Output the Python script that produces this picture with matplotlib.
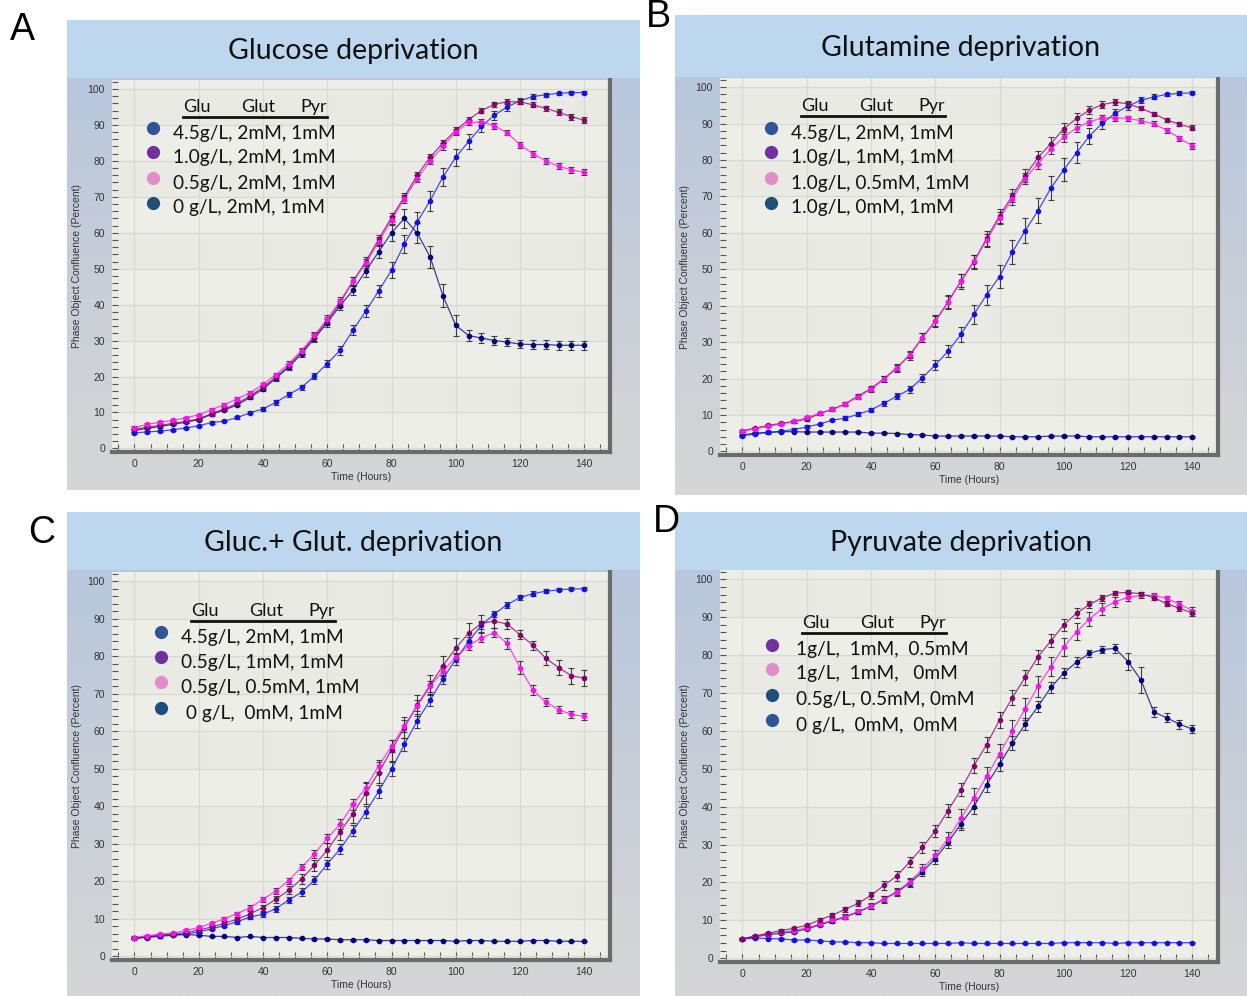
import numpy as np
import matplotlib
matplotlib.use("Agg")
import matplotlib.pyplot as plt
from matplotlib.lines import Line2D
from matplotlib.ticker import MultipleLocator
from matplotlib.colors import LinearSegmentedColormap

W, H = 1247, 996

hours = list(range(0, 141, 4))

# ---- Panel A: glucose deprivation ----
a_labels = ["4.5g/L, 2mM, 1mM", "1.0g/L, 2mM, 1mM", "0.5g/L, 2mM, 1mM", "0 g/L, 2mM, 1mM"]
a_blue = [4.3, 4.6, 4.8, 5.2, 5.7, 6.3, 7.2, 7.6, 8.6, 9.9, 11.0, 12.8, 15.0, 17.0, 20.1, 23.6, 27.3, 32.9,
          38.2, 43.8, 49.6, 56.9, 63.0, 68.9, 75.5, 81.0, 85.4, 89.6, 92.7, 95.0, 96.7, 97.9, 98.4, 98.8, 99.0, 99.0]
a_blue_err = [0.3, 0.3, 0.3, 0.3, 0.3, 0.3, 0.3, 0.3, 0.4, 0.4, 0.5, 0.6, 0.6, 0.7, 0.9, 1.0, 1.2, 1.4,
              1.6, 1.8, 2.2, 2.6, 2.8, 2.8, 2.6, 2.4, 2.0, 1.6, 1.3, 1.0, 0.8, 0.6, 0.5, 0.5, 0.4, 0.4]
a_purple = [5.3, 5.9, 6.4, 7.0, 7.5, 8.2, 9.7, 11.0, 12.5, 14.6, 17.0, 19.8, 23.0, 26.8, 31.0, 35.5, 40.5, 46.5,
            52.0, 58.2, 64.3, 70.0, 76.0, 81.0, 85.0, 88.5, 91.5, 94.0, 95.7, 96.5, 96.4, 95.6, 94.6, 93.5, 92.3, 91.3]
a_purple_err = [0.3, 0.3, 0.3, 0.3, 0.3, 0.3, 0.4, 0.4, 0.4, 0.5, 0.6, 0.7, 0.8, 0.9, 1.0, 1.1, 1.2, 1.3,
                1.3, 1.2, 1.2, 1.1, 1.0, 1.0, 0.9, 0.9, 0.8, 0.8, 0.7, 0.7, 0.7, 0.7, 0.7, 0.8, 0.8, 0.8]
a_magenta = [5.8, 6.7, 7.3, 7.8, 8.5, 9.4, 10.8, 12.2, 13.8, 15.5, 17.8, 20.5, 23.6, 27.2, 31.5, 36.0, 41.0, 46.5,
             51.5, 57.5, 63.5, 69.5, 75.0, 80.0, 84.0, 88.0, 90.7, 90.8, 89.8, 87.8, 84.5, 82.0, 80.0, 78.5, 77.5, 76.8]
a_magenta_err = [0.3, 0.3, 0.3, 0.3, 0.3, 0.3, 0.4, 0.4, 0.4, 0.5, 0.5, 0.6, 0.7, 0.8, 0.9, 1.0, 1.1, 1.2,
                 1.2, 1.2, 1.1, 1.1, 1.0, 1.0, 0.9, 0.9, 0.8, 0.8, 0.8, 0.7, 0.8, 0.8, 0.8, 0.8, 0.8, 0.8]
a_navy = [5.0, 5.6, 6.1, 6.7, 7.3, 8.0, 9.5, 10.7, 12.1, 14.2, 16.5, 19.5, 22.6, 26.3, 30.6, 35.0, 39.7, 44.0,
          49.4, 54.7, 60.0, 64.0, 59.9, 53.3, 42.5, 34.2, 31.4, 30.7, 30.0, 29.6, 29.0, 28.9, 28.9, 28.7, 28.7, 28.7]
a_navy_err = [0.3, 0.3, 0.3, 0.3, 0.3, 0.3, 0.4, 0.4, 0.4, 0.5, 0.6, 0.7, 0.8, 0.9, 1.0, 1.1, 1.3, 1.4,
              1.6, 1.8, 2.2, 2.6, 2.8, 3.0, 3.2, 2.8, 1.5, 1.3, 1.3, 1.2, 1.2, 1.2, 1.2, 1.2, 1.2, 1.2]

# ---- Panel B: glutamine deprivation ----
b_labels = ["4.5g/L, 2mM, 1mM", "1.0g/L, 1mM, 1mM", "1.0g/L, 0.5mM, 1mM", "1.0g/L, 0mM, 1mM"]
b_blue = [4.3, 4.8, 5.2, 5.5, 6.0, 6.7, 7.5, 8.6, 9.1, 10.2, 11.4, 13.2, 15.1, 17.0, 20.2, 23.7, 27.5, 32.1,
          37.6, 43.0, 48.0, 54.7, 60.6, 66.1, 72.3, 77.3, 82.0, 86.6, 90.1, 92.8, 94.8, 96.4, 97.3, 98.0, 98.3, 98.4]
b_blue_err = [0.3, 0.3, 0.3, 0.3, 0.3, 0.4, 0.4, 0.4, 0.5, 0.5, 0.6, 0.7, 0.8, 0.9, 1.1, 1.3, 1.6, 2.0,
              2.5, 2.8, 3.2, 3.2, 3.5, 3.4, 3.4, 3.2, 2.8, 2.2, 1.6, 1.3, 1.0, 0.8, 0.7, 0.5, 0.5, 0.4]
b_purple = [5.7, 6.4, 7.1, 7.7, 8.2, 8.8, 10.4, 11.5, 13.1, 15.2, 17.3, 19.9, 23.0, 26.3, 31.2, 35.7, 41.0, 46.7,
            52.0, 58.5, 64.7, 70.2, 75.7, 80.7, 84.5, 88.6, 91.4, 93.7, 95.2, 95.9, 95.4, 94.2, 92.7, 91.0, 89.8, 88.8]
b_purple_err = [0.3, 0.3, 0.3, 0.3, 0.4, 0.4, 0.4, 0.5, 0.5, 0.6, 0.7, 0.8, 1.0, 1.1, 1.3, 1.6, 1.8, 2.0,
                2.0, 2.0, 1.9, 1.8, 1.8, 1.8, 1.8, 1.6, 1.5, 1.2, 1.0, 0.8, 0.7, 0.6, 0.6, 0.6, 0.6, 0.7]
b_magenta = [5.5, 6.2, 6.9, 7.5, 8.2, 9.3, 10.4, 11.6, 13.0, 15.0, 17.0, 19.8, 22.8, 26.5, 31.2, 35.8, 41.0, 46.8,
             52.2, 58.0, 64.0, 69.3, 74.9, 79.0, 83.0, 86.3, 88.8, 90.5, 91.5, 91.6, 91.4, 90.8, 89.9, 88.2, 86.0, 83.9]
b_magenta_err = [0.3, 0.3, 0.3, 0.3, 0.4, 0.4, 0.4, 0.5, 0.5, 0.6, 0.7, 0.8, 0.9, 1.0, 1.2, 1.4, 1.6, 1.8,
                 1.8, 1.8, 1.7, 1.6, 1.6, 1.5, 1.4, 1.3, 1.1, 1.0, 0.9, 0.8, 0.7, 0.7, 0.7, 0.7, 0.7, 0.8]
b_navy = [4.5, 5.0, 5.2, 5.4, 5.4, 5.3, 5.3, 5.3, 5.3, 5.3, 5.0, 5.0, 4.9, 4.6, 4.5, 4.2, 4.2, 4.2,
          4.2, 4.2, 4.2, 4.0, 4.0, 4.0, 4.2, 4.2, 4.2, 4.0, 4.0, 4.0, 4.0, 4.0, 4.0, 4.0, 4.0, 4.0]
b_navy_err = [0.2, 0.2, 0.2, 0.2, 0.2, 0.2, 0.2, 0.2, 0.2, 0.2, 0.2, 0.2, 0.2, 0.2, 0.2, 0.2, 0.2, 0.2,
              0.2, 0.2, 0.2, 0.2, 0.2, 0.2, 0.2, 0.2, 0.2, 0.2, 0.2, 0.2, 0.2, 0.2, 0.2, 0.2, 0.2, 0.2]

# ---- Panel C: glucose + glutamine deprivation ----
c_labels = ["4.5g/L, 2mM, 1mM", "0.5g/L, 1mM, 1mM", "0.5g/L, 0.5mM, 1mM", " 0 g/L,  0mM, 1mM"]
c_blue = [4.8, 5.0, 5.3, 5.6, 5.9, 6.5, 7.3, 8.2, 9.2, 10.5, 11.2, 12.7, 15.0, 17.1, 20.3, 24.6, 28.6, 33.5,
          38.5, 44.0, 49.9, 56.5, 62.8, 68.3, 74.0, 79.2, 84.0, 88.3, 91.3, 93.8, 95.7, 96.7, 97.4, 97.7, 98.0, 98.0]
c_blue_err = [0.3, 0.3, 0.3, 0.3, 0.3, 0.3, 0.4, 0.5, 0.5, 0.6, 0.7, 0.8, 0.9, 1.0, 1.1, 1.2, 1.4, 1.5,
              1.6, 1.7, 1.8, 1.8, 1.8, 1.6, 1.5, 1.4, 1.2, 1.0, 0.9, 0.8, 0.7, 0.6, 0.5, 0.4, 0.4, 0.4]
c_purple = [4.8, 5.2, 5.6, 5.9, 6.3, 7.0, 7.8, 8.8, 9.9, 11.3, 13.0, 15.2, 17.6, 20.6, 24.3, 28.3, 33.2, 38.0,
            43.5, 49.0, 55.0, 61.0, 67.0, 72.3, 77.5, 82.2, 86.2, 88.8, 89.4, 88.6, 85.8, 83.0, 79.5, 77.0, 74.8, 74.2]
c_purple_err = [0.3, 0.3, 0.3, 0.3, 0.3, 0.4, 0.4, 0.5, 0.6, 0.7, 0.8, 0.9, 1.1, 1.3, 1.5, 1.8, 2.2, 2.5,
                2.8, 2.8, 2.8, 2.8, 2.8, 2.6, 2.6, 2.6, 2.6, 2.2, 1.8, 1.4, 1.2, 1.2, 1.8, 2.0, 2.2, 2.2]
c_magenta = [5.0, 5.5, 5.9, 6.2, 6.9, 7.7, 8.8, 10.0, 11.4, 13.0, 15.2, 17.4, 20.2, 23.8, 27.3, 31.5, 35.2, 40.5,
             45.0, 50.8, 56.0, 61.5, 66.8, 72.0, 76.0, 79.8, 82.8, 85.0, 86.3, 83.5, 77.0, 71.0, 67.8, 65.8, 64.5, 64.0]
c_magenta_err = [0.3, 0.3, 0.3, 0.3, 0.3, 0.4, 0.4, 0.5, 0.5, 0.6, 0.6, 0.7, 0.8, 0.9, 1.0, 1.2, 1.3, 1.5,
                 1.6, 1.6, 1.6, 1.6, 1.5, 1.4, 1.3, 1.2, 1.2, 1.2, 1.2, 1.5, 1.7, 1.3, 1.0, 0.9, 0.9, 0.9]
c_navy = [4.8, 5.2, 5.5, 5.7, 5.8, 5.6, 5.3, 5.3, 5.0, 5.3, 5.0, 5.0, 5.0, 4.8, 4.6, 4.6, 4.4, 4.4,
          4.4, 4.2, 4.2, 4.2, 4.2, 4.2, 4.2, 4.0, 4.2, 4.2, 4.0, 4.0, 4.0, 4.2, 4.2, 4.0, 4.0, 4.0]
c_navy_err = [0.2, 0.2, 0.2, 0.2, 0.2, 0.2, 0.2, 0.2, 0.2, 0.2, 0.2, 0.2, 0.2, 0.2, 0.2, 0.2, 0.2, 0.2,
              0.2, 0.2, 0.2, 0.2, 0.2, 0.2, 0.2, 0.2, 0.2, 0.2, 0.2, 0.2, 0.2, 0.2, 0.2, 0.2, 0.2, 0.2]

# ---- Panel D: pyruvate deprivation ----
d_labels = ["1g/L,  1mM,  0.5mM", "1g/L,  1mM,   0mM", "0.5g/L, 0.5mM, 0mM", "0 g/L,  0mM,  0mM"]
d_purple = [5.1, 5.9, 6.6, 7.3, 7.9, 8.7, 10.1, 11.4, 12.9, 14.5, 16.6, 19.2, 21.7, 25.4, 29.3, 33.6, 39.0, 44.5,
            50.8, 56.4, 62.9, 68.8, 74.2, 79.6, 83.8, 88.0, 91.1, 93.4, 95.2, 96.4, 96.6, 96.2, 95.2, 93.6, 92.4, 91.1]
d_purple_err = [0.3, 0.3, 0.3, 0.4, 0.4, 0.4, 0.5, 0.6, 0.7, 0.8, 1.0, 1.1, 1.2, 1.3, 1.4, 1.5, 1.7, 1.8,
                2.0, 2.0, 2.0, 2.0, 2.0, 1.8, 1.7, 1.5, 1.3, 1.0, 0.8, 0.6, 0.5, 0.5, 0.6, 0.7, 0.8, 0.8]
d_magenta = [5.1, 5.8, 6.3, 6.8, 7.3, 8.0, 9.0, 10.0, 11.0, 12.4, 13.7, 15.6, 17.6, 20.2, 23.5, 27.2, 31.6, 37.0,
             42.3, 48.0, 54.0, 60.0, 65.8, 71.8, 77.0, 82.2, 86.2, 89.6, 92.3, 94.1, 95.3, 95.8, 95.8, 95.0, 93.5, 91.8]
d_magenta_err = [0.3, 0.3, 0.3, 0.3, 0.4, 0.4, 0.4, 0.5, 0.6, 0.7, 0.8, 0.9, 1.0, 1.1, 1.3, 1.5, 1.8, 2.5,
                 2.6, 2.6, 2.6, 2.8, 2.8, 2.8, 2.6, 2.4, 2.2, 1.8, 1.6, 1.3, 1.0, 0.8, 0.7, 0.7, 0.8, 0.8]
d_navy = [5.1, 5.7, 6.2, 6.6, 7.0, 7.7, 8.8, 9.8, 10.9, 12.2, 13.7, 15.6, 17.4, 19.8, 22.8, 26.3, 30.6, 35.5,
          40.0, 45.8, 51.2, 56.8, 61.8, 66.5, 71.5, 75.3, 78.2, 80.5, 81.5, 81.8, 78.3, 73.5, 65.0, 63.5, 61.8, 60.5]
d_navy_err = [0.3, 0.3, 0.3, 0.3, 0.3, 0.3, 0.4, 0.5, 0.6, 0.6, 0.7, 0.8, 0.9, 1.0, 1.2, 1.3, 1.5, 1.6,
              1.8, 1.8, 1.8, 1.8, 1.6, 1.5, 1.4, 1.3, 1.2, 1.0, 1.0, 1.2, 2.2, 3.5, 1.2, 1.2, 1.2, 1.0]
d_blue = [5.1, 5.3, 5.2, 5.1, 4.8, 4.8, 4.6, 4.3, 4.3, 4.1, 4.1, 3.9, 3.9, 3.9, 3.9, 3.9, 3.9, 4.1,
          3.9, 3.9, 3.9, 3.9, 3.9, 3.9, 3.9, 4.1, 4.1, 4.1, 4.1, 3.9, 4.1, 4.1, 4.1, 4.1, 4.1, 4.1]
d_blue_err = [0.2, 0.2, 0.2, 0.2, 0.2, 0.2, 0.2, 0.2, 0.2, 0.2, 0.2, 0.2, 0.2, 0.2, 0.2, 0.2, 0.2, 0.2,
              0.2, 0.2, 0.2, 0.2, 0.2, 0.2, 0.2, 0.2, 0.2, 0.2, 0.2, 0.2, 0.2, 0.2, 0.2, 0.2, 0.2, 0.2]

# line colours (Incucyte style) and legend dot colours (slide style)
BLUE, PURPLE, MAGENTA, NAVY = "#1010F0", "#880070", "#FF10F0", "#000080"
DOT_BLUE, DOT_PURPLE, DOT_PINK, DOT_NAVY = "#2F5597", "#7030A0", "#E08DC8", "#1F4E79"

TITLE_FONT = ["Lato", "DejaVu Sans"]
TICK_FONT = ["Liberation Sans Narrow", "Liberation Sans", "DejaVu Sans"]

fig = plt.figure(figsize=(W / 100, H / 100), dpi=100)


def fx(x):
    return x / W


def fy(y):
    return 1 - y / H


def rect(x0, y0, x1, y1):
    return [fx(x0), fy(y1), fx(x1) - fx(x0), fy(y0) - fy(y1)]


def draw_panel(box, band_bottom, plot_box, title, series, dots, labels, leg):
    # outer gradient box
    bg = fig.add_axes(rect(*box), zorder=0)
    grad = np.linspace(0, 1, 256).reshape(-1, 1)
    cmap = LinearSegmentedColormap.from_list("bg", ["#B3C6DF", "#C6CDD8", "#D6D6D6"])
    bg.imshow(grad, aspect="auto", cmap=cmap, extent=[0, 1, 0, 1])
    bg.axis("off")

    # title band
    band = fig.add_axes(rect(box[0], box[1], box[2], band_bottom), zorder=2)
    band.set_facecolor("#BDD7EE")
    band.set_xticks([])
    band.set_yticks([])
    for s in band.spines.values():
        s.set_visible(False)
    band.text(0.5, 0.47, title, ha="center", va="center", fontsize=20.5, family=TITLE_FONT,
              color="#111111")

    ax = fig.add_axes(rect(*plot_box), zorder=1)
    ax.set_facecolor("#EEEEE9")
    for y0 in range(10, 101, 20):
        ax.axhspan(y0, y0 + 10, color="#EAEAE4", lw=0, zorder=0)
    ax.set_xlim(-7, 148)
    ax.set_ylim(-1, 102.5)
    ax.xaxis.set_major_locator(MultipleLocator(20))
    ax.xaxis.set_minor_locator(MultipleLocator(5))
    ax.yaxis.set_major_locator(MultipleLocator(10))
    ax.yaxis.set_minor_locator(MultipleLocator(2))
    ax.set_xticks(range(0, 141, 20))
    ax.grid(True, which="major", color="#D9D9D3", lw=0.9, zorder=0.5)
    ax.set_axisbelow(True)
    ax.tick_params(axis="x", which="both", direction="in", length=6, width=0.8, color="#555555",
                   labelsize=7.5, labelcolor="#333333", pad=5)
    ax.tick_params(axis="y", which="both", direction="in", length=4, width=0.8, color="#555555",
                   labelsize=7.5, labelcolor="#333333", pad=5)
    for lab in ax.get_xticklabels() + ax.get_yticklabels():
        lab.set_family(TICK_FONT)
    ax.spines["top"].set_visible(False)
    ax.spines["left"].set_visible(False)
    for side in ("bottom", "right"):
        ax.spines[side].set_color("#6B6B6B")
        ax.spines[side].set_linewidth(3)
    ax.set_xlabel("Time (Hours)", fontsize=7.5, family=TICK_FONT, color="#333333", labelpad=2)
    ax.set_ylabel("Phase Object Confluence (Percent)", fontsize=7.5, family=TICK_FONT,
                  color="#333333", labelpad=4)

    for vals, errs, col in series:
        ax.errorbar(hours, vals, yerr=errs, fmt="none", ecolor="#222222", elinewidth=0.8,
                    capsize=2.2, capthick=0.8, alpha=0.85, zorder=3)
        ax.plot(hours, vals, color=col, lw=0.9, alpha=0.75, zorder=4)
        ax.plot(hours, vals, ls="none", marker="o", ms=3.0, color=col, zorder=5)

    # hand-made legend, positions in pixels from plot top-left
    x0, y0 = plot_box[0], plot_box[1]
    mx, tx, hx, hy, rows = leg
    for word, dx in zip(["Glu", "Glut", "Pyr"], [0, 58, 117]):
        fig.text(fx(x0 + hx + dx), fy(y0 + hy), word, fontsize=13, family=TITLE_FONT,
                 va="center", ha="left", color="#111111", zorder=6)
    fig.add_artist(Line2D([fx(x0 + hx), fx(x0 + hx + 144)], [fy(y0 + hy + 10), fy(y0 + hy + 10)],
                          color="#111111", lw=2, zorder=6))
    for dy, lab, dc in zip(rows, labels, dots):
        fig.add_artist(Line2D([fx(x0 + mx)], [fy(y0 + dy - 5)], marker="o", ms=8.5, color=dc, ls="none",
                              zorder=6))
        fig.text(fx(x0 + tx), fy(y0 + dy), lab, fontsize=13.8, family=TITLE_FONT, va="center",
                 ha="left", color="#111111", zorder=6)
    return ax


draw_panel((67, 20, 640, 490), 78, (112, 80, 610, 452), "Glucose deprivation",
           [(a_navy, a_navy_err, NAVY), (a_blue, a_blue_err, BLUE),
            (a_purple, a_purple_err, PURPLE), (a_magenta, a_magenta_err, MAGENTA)],
           [DOT_BLUE, DOT_PURPLE, DOT_PINK, DOT_NAVY], a_labels,
           (41, 61, 71, 27, [53, 77, 103, 128]))

draw_panel((675, 15, 1247, 495), 77, (720, 78, 1218, 455), "Glutamine deprivation",
           [(b_navy, b_navy_err, NAVY), (b_blue, b_blue_err, BLUE),
            (b_purple, b_purple_err, PURPLE), (b_magenta, b_magenta_err, MAGENTA)],
           [DOT_BLUE, DOT_PURPLE, DOT_PINK, DOT_NAVY], b_labels,
           (51, 71, 81, 28, [55, 79, 105, 130]))

draw_panel((67, 512, 640, 996), 570, (112, 572, 610, 960), "Gluc.+ Glut. deprivation",
           [(c_navy, c_navy_err, NAVY), (c_blue, c_blue_err, BLUE),
            (c_purple, c_purple_err, PURPLE), (c_magenta, c_magenta_err, MAGENTA)],
           [DOT_BLUE, DOT_PURPLE, DOT_PINK, DOT_NAVY], c_labels,
           (49, 69, 79, 39, [65, 90, 115, 141]))

draw_panel((675, 512, 1247, 996), 570, (720, 570, 1218, 962), "Pyruvate deprivation",
           [(d_blue, d_blue_err, BLUE), (d_navy, d_navy_err, NAVY),
            (d_magenta, d_magenta_err, MAGENTA), (d_purple, d_purple_err, PURPLE)],
           [DOT_PURPLE, DOT_PINK, DOT_NAVY, DOT_BLUE], d_labels,
           (52, 76, 82, 53, [80, 104, 130, 155]))

# panel letters
for letter, (x, y) in zip("ABCD", [(22, 30), (658, 17), (42, 533), (666, 522)]):
    fig.text(fx(x), fy(y), letter, fontsize=27, family=["Liberation Sans", "DejaVu Sans"],
             ha="center", va="center", color="black")

fig.savefig("out.png", dpi=100)
